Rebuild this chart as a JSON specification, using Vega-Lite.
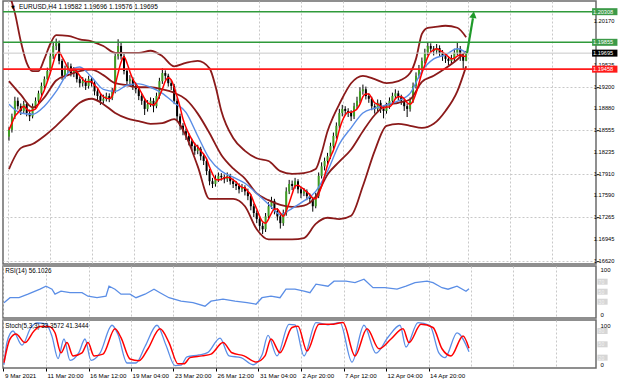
{
"$schema":"https://vega.github.io/schema/vega-lite/v6.json",
"padding":0,
"background":"white",
"spacing":2,
"bounds":"flush",
"config":{"font":"Liberation Sans","view":{"stroke":"#6b6b6b","strokeWidth":1.5},"axis":{"labelFont":"Liberation Sans","labelFontSize":6.3,"labelColor":"#000","labelOverlap":false}},
"datasets":{
"candles":[
{"i":0,"o":1.1846,"h":1.1860,"l":1.1840,"c":1.1856,"r":1.1856},
{"i":1,"o":1.1856,"h":1.1880,"l":1.1852,"c":1.1876,"r":1.1866},
{"i":2,"o":1.1876,"h":1.1905,"l":1.1872,"c":1.1899,"r":1.1876},
{"i":3,"o":1.1899,"h":1.1904,"l":1.1886,"c":1.1891,"r":1.1881},
{"i":4,"o":1.1891,"h":1.1895,"l":1.1878,"c":1.1884,"r":1.1887},
{"i":5,"o":1.1884,"h":1.1899,"l":1.1880,"c":1.1894,"r":1.1891},
{"i":6,"o":1.1894,"h":1.1897,"l":1.1876,"c":1.1881,"r":1.1887},
{"i":7,"o":1.1881,"h":1.1886,"l":1.1869,"c":1.1876,"r":1.1884},
{"i":8,"o":1.1876,"h":1.1895,"l":1.1873,"c":1.1891,"r":1.1885},
{"i":9,"o":1.1891,"h":1.1904,"l":1.1887,"c":1.1899,"r":1.1887},
{"i":10,"o":1.1899,"h":1.1914,"l":1.1895,"c":1.1910,"r":1.1894},
{"i":11,"o":1.1910,"h":1.1926,"l":1.1906,"c":1.1921,"r":1.1905},
{"i":12,"o":1.1921,"h":1.1935,"l":1.1916,"c":1.1931,"r":1.1915},
{"i":13,"o":1.1931,"h":1.1948,"l":1.1927,"c":1.1943,"r":1.1927},
{"i":14,"o":1.1943,"h":1.1970,"l":1.1939,"c":1.1965,"r":1.1940},
{"i":15,"o":1.1965,"h":1.1986,"l":1.1961,"c":1.1980,"r":1.1955},
{"i":16,"o":1.1980,"h":1.1991,"l":1.1974,"c":1.1984,"r":1.1968},
{"i":17,"o":1.1984,"h":1.1988,"l":1.1953,"c":1.1958,"r":1.1971},
{"i":18,"o":1.1958,"h":1.1961,"l":1.1930,"c":1.1936,"r":1.1964},
{"i":19,"o":1.1936,"h":1.1951,"l":1.1932,"c":1.1946,"r":1.1956},
{"i":20,"o":1.1946,"h":1.1956,"l":1.1940,"c":1.1950,"r":1.1947},
{"i":21,"o":1.1950,"h":1.1954,"l":1.1935,"c":1.1940,"r":1.1943},
{"i":22,"o":1.1940,"h":1.1949,"l":1.1934,"c":1.1943,"r":1.1945},
{"i":23,"o":1.1943,"h":1.1946,"l":1.1926,"c":1.1931,"r":1.1942},
{"i":24,"o":1.1931,"h":1.1935,"l":1.1919,"c":1.1925,"r":1.1936},
{"i":25,"o":1.1925,"h":1.1934,"l":1.1920,"c":1.1928,"r":1.1931},
{"i":26,"o":1.1928,"h":1.1932,"l":1.1915,"c":1.1921,"r":1.1927},
{"i":27,"o":1.1921,"h":1.1936,"l":1.1917,"c":1.1931,"r":1.1927},
{"i":28,"o":1.1931,"h":1.1934,"l":1.1920,"c":1.1925,"r":1.1927},
{"i":29,"o":1.1925,"h":1.1928,"l":1.1907,"c":1.1913,"r":1.1922},
{"i":30,"o":1.1913,"h":1.1917,"l":1.1900,"c":1.1906,"r":1.1918},
{"i":31,"o":1.1906,"h":1.1910,"l":1.1893,"c":1.1899,"r":1.1910},
{"i":32,"o":1.1899,"h":1.1908,"l":1.1895,"c":1.1902,"r":1.1905},
{"i":33,"o":1.1902,"h":1.1911,"l":1.1898,"c":1.1906,"r":1.1903},
{"i":34,"o":1.1906,"h":1.1910,"l":1.1897,"c":1.1903,"r":1.1902},
{"i":35,"o":1.1903,"h":1.1918,"l":1.1900,"c":1.1913,"r":1.1906},
{"i":36,"o":1.1913,"h":1.1971,"l":1.1910,"c":1.1965,"r":1.1922},
{"i":37,"o":1.1965,"h":1.1990,"l":1.1960,"c":1.1980,"r":1.1940},
{"i":38,"o":1.1980,"h":1.1986,"l":1.1960,"c":1.1965,"r":1.1956},
{"i":39,"o":1.1965,"h":1.1968,"l":1.1938,"c":1.1943,"r":1.1964},
{"i":40,"o":1.1943,"h":1.1947,"l":1.1922,"c":1.1928,"r":1.1955},
{"i":41,"o":1.1928,"h":1.1937,"l":1.1923,"c":1.1931,"r":1.1942},
{"i":42,"o":1.1931,"h":1.1934,"l":1.1915,"c":1.1921,"r":1.1931},
{"i":43,"o":1.1921,"h":1.1926,"l":1.1910,"c":1.1916,"r":1.1924},
{"i":44,"o":1.1916,"h":1.1920,"l":1.1900,"c":1.1906,"r":1.1918},
{"i":45,"o":1.1906,"h":1.1910,"l":1.1893,"c":1.1899,"r":1.1910},
{"i":46,"o":1.1899,"h":1.1902,"l":1.1878,"c":1.1887,"r":1.1902},
{"i":47,"o":1.1887,"h":1.1900,"l":1.1883,"c":1.1894,"r":1.1896},
{"i":48,"o":1.1894,"h":1.1904,"l":1.1890,"c":1.1899,"r":1.1894},
{"i":49,"o":1.1899,"h":1.1903,"l":1.1882,"c":1.1891,"r":1.1893},
{"i":50,"o":1.1891,"h":1.1911,"l":1.1888,"c":1.1906,"r":1.1897},
{"i":51,"o":1.1906,"h":1.1933,"l":1.1902,"c":1.1928,"r":1.1906},
{"i":52,"o":1.1928,"h":1.1947,"l":1.1924,"c":1.1940,"r":1.1916},
{"i":53,"o":1.1940,"h":1.1944,"l":1.1930,"c":1.1936,"r":1.1928},
{"i":54,"o":1.1936,"h":1.1939,"l":1.1920,"c":1.1925,"r":1.1933},
{"i":55,"o":1.1925,"h":1.1930,"l":1.1915,"c":1.1921,"r":1.1930},
{"i":56,"o":1.1921,"h":1.1924,"l":1.1894,"c":1.1899,"r":1.1919},
{"i":57,"o":1.1899,"h":1.1902,"l":1.1870,"c":1.1876,"r":1.1905},
{"i":58,"o":1.1876,"h":1.1880,"l":1.1856,"c":1.1862,"r":1.1890},
{"i":59,"o":1.1862,"h":1.1866,"l":1.1848,"c":1.1854,"r":1.1872},
{"i":60,"o":1.1854,"h":1.1858,"l":1.1841,"c":1.1847,"r":1.1860},
{"i":61,"o":1.1847,"h":1.1851,"l":1.1833,"c":1.1839,"r":1.1850},
{"i":62,"o":1.1839,"h":1.1843,"l":1.1826,"c":1.1832,"r":1.1842},
{"i":63,"o":1.1832,"h":1.1837,"l":1.1819,"c":1.1825,"r":1.1835},
{"i":64,"o":1.1825,"h":1.1834,"l":1.1820,"c":1.1828,"r":1.1831},
{"i":65,"o":1.1828,"h":1.1831,"l":1.1811,"c":1.1817,"r":1.1825},
{"i":66,"o":1.1817,"h":1.1821,"l":1.1804,"c":1.1810,"r":1.1820},
{"i":67,"o":1.1810,"h":1.1813,"l":1.1789,"c":1.1795,"r":1.1813},
{"i":68,"o":1.1795,"h":1.1798,"l":1.1774,"c":1.1780,"r":1.1801},
{"i":69,"o":1.1780,"h":1.1785,"l":1.1770,"c":1.1776,"r":1.1791},
{"i":70,"o":1.1776,"h":1.1789,"l":1.1772,"c":1.1783,"r":1.1783},
{"i":71,"o":1.1783,"h":1.1793,"l":1.1779,"c":1.1788,"r":1.1782},
{"i":72,"o":1.1788,"h":1.1792,"l":1.1781,"c":1.1786,"r":1.1783},
{"i":73,"o":1.1786,"h":1.1790,"l":1.1777,"c":1.1783,"r":1.1785},
{"i":74,"o":1.1783,"h":1.1793,"l":1.1779,"c":1.1788,"r":1.1786},
{"i":75,"o":1.1788,"h":1.1791,"l":1.1775,"c":1.1780,"r":1.1785},
{"i":76,"o":1.1780,"h":1.1784,"l":1.1770,"c":1.1776,"r":1.1782},
{"i":77,"o":1.1776,"h":1.1780,"l":1.1767,"c":1.1773,"r":1.1779},
{"i":78,"o":1.1773,"h":1.1777,"l":1.1762,"c":1.1768,"r":1.1774},
{"i":79,"o":1.1768,"h":1.1776,"l":1.1764,"c":1.1771,"r":1.1771},
{"i":80,"o":1.1771,"h":1.1774,"l":1.1759,"c":1.1765,"r":1.1770},
{"i":81,"o":1.1765,"h":1.1769,"l":1.1752,"c":1.1758,"r":1.1765},
{"i":82,"o":1.1758,"h":1.1761,"l":1.1737,"c":1.1743,"r":1.1760},
{"i":83,"o":1.1743,"h":1.1747,"l":1.1727,"c":1.1733,"r":1.1749},
{"i":84,"o":1.1733,"h":1.1737,"l":1.1718,"c":1.1724,"r":1.1739},
{"i":85,"o":1.1724,"h":1.1728,"l":1.1707,"c":1.1714,"r":1.1728},
{"i":86,"o":1.1714,"h":1.1719,"l":1.1702,"c":1.1709,"r":1.1720},
{"i":87,"o":1.1709,"h":1.1733,"l":1.1705,"c":1.1728,"r":1.1718},
{"i":88,"o":1.1728,"h":1.1749,"l":1.1724,"c":1.1743,"r":1.1724},
{"i":89,"o":1.1743,"h":1.1757,"l":1.1739,"c":1.1751,"r":1.1733},
{"i":90,"o":1.1751,"h":1.1754,"l":1.1731,"c":1.1736,"r":1.1739},
{"i":91,"o":1.1736,"h":1.1740,"l":1.1722,"c":1.1728,"r":1.1739},
{"i":92,"o":1.1728,"h":1.1732,"l":1.1710,"c":1.1718,"r":1.1733},
{"i":93,"o":1.1718,"h":1.1738,"l":1.1714,"c":1.1733,"r":1.1728},
{"i":94,"o":1.1733,"h":1.1771,"l":1.1729,"c":1.1765,"r":1.1736},
{"i":95,"o":1.1765,"h":1.1782,"l":1.1761,"c":1.1776,"r":1.1748},
{"i":96,"o":1.1776,"h":1.1781,"l":1.1767,"c":1.1773,"r":1.1761},
{"i":97,"o":1.1773,"h":1.1785,"l":1.1769,"c":1.1780,"r":1.1773},
{"i":98,"o":1.1780,"h":1.1783,"l":1.1762,"c":1.1768,"r":1.1774},
{"i":99,"o":1.1768,"h":1.1772,"l":1.1755,"c":1.1762,"r":1.1771},
{"i":100,"o":1.1762,"h":1.1770,"l":1.1758,"c":1.1765,"r":1.1768},
{"i":101,"o":1.1765,"h":1.1768,"l":1.1752,"c":1.1758,"r":1.1764},
{"i":102,"o":1.1758,"h":1.1762,"l":1.1747,"c":1.1754,"r":1.1760},
{"i":103,"o":1.1754,"h":1.1757,"l":1.1735,"c":1.1743,"r":1.1755},
{"i":104,"o":1.1743,"h":1.1763,"l":1.1740,"c":1.1758,"r":1.1754},
{"i":105,"o":1.1758,"h":1.1793,"l":1.1755,"c":1.1788,"r":1.1761},
{"i":106,"o":1.1788,"h":1.1808,"l":1.1784,"c":1.1802,"r":1.1773},
{"i":107,"o":1.1802,"h":1.1815,"l":1.1796,"c":1.1810,"r":1.1788},
{"i":108,"o":1.1810,"h":1.1822,"l":1.1805,"c":1.1817,"r":1.1804},
{"i":109,"o":1.1817,"h":1.1837,"l":1.1813,"c":1.1832,"r":1.1816},
{"i":110,"o":1.1832,"h":1.1852,"l":1.1828,"c":1.1847,"r":1.1826},
{"i":111,"o":1.1847,"h":1.1867,"l":1.1843,"c":1.1862,"r":1.1839},
{"i":112,"o":1.1862,"h":1.1887,"l":1.1858,"c":1.1881,"r":1.1856},
{"i":113,"o":1.1881,"h":1.1893,"l":1.1876,"c":1.1887,"r":1.1869},
{"i":114,"o":1.1887,"h":1.1891,"l":1.1878,"c":1.1884,"r":1.1878},
{"i":115,"o":1.1884,"h":1.1888,"l":1.1875,"c":1.1881,"r":1.1882},
{"i":116,"o":1.1881,"h":1.1885,"l":1.1869,"c":1.1876,"r":1.1882},
{"i":117,"o":1.1876,"h":1.1896,"l":1.1872,"c":1.1891,"r":1.1884},
{"i":118,"o":1.1891,"h":1.1905,"l":1.1887,"c":1.1899,"r":1.1887},
{"i":119,"o":1.1899,"h":1.1919,"l":1.1895,"c":1.1913,"r":1.1894},
{"i":120,"o":1.1913,"h":1.1923,"l":1.1908,"c":1.1916,"r":1.1905},
{"i":121,"o":1.1916,"h":1.1920,"l":1.1901,"c":1.1906,"r":1.1909},
{"i":122,"o":1.1906,"h":1.1910,"l":1.1896,"c":1.1902,"r":1.1909},
{"i":123,"o":1.1902,"h":1.1905,"l":1.1885,"c":1.1891,"r":1.1903},
{"i":124,"o":1.1891,"h":1.1895,"l":1.1880,"c":1.1887,"r":1.1896},
{"i":125,"o":1.1887,"h":1.1901,"l":1.1883,"c":1.1896,"r":1.1894},
{"i":126,"o":1.1896,"h":1.1900,"l":1.1881,"c":1.1887,"r":1.1891},
{"i":127,"o":1.1887,"h":1.1891,"l":1.1873,"c":1.1884,"r":1.1888},
{"i":128,"o":1.1884,"h":1.1896,"l":1.1880,"c":1.1891,"r":1.1890},
{"i":129,"o":1.1891,"h":1.1904,"l":1.1887,"c":1.1899,"r":1.1890},
{"i":130,"o":1.1899,"h":1.1911,"l":1.1895,"c":1.1906,"r":1.1894},
{"i":131,"o":1.1906,"h":1.1916,"l":1.1902,"c":1.1910,"r":1.1902},
{"i":132,"o":1.1910,"h":1.1914,"l":1.1900,"c":1.1905,"r":1.1905},
{"i":133,"o":1.1905,"h":1.1908,"l":1.1893,"c":1.1899,"r":1.1905},
{"i":134,"o":1.1899,"h":1.1902,"l":1.1884,"c":1.1891,"r":1.1902},
{"i":135,"o":1.1891,"h":1.1895,"l":1.1875,"c":1.1887,"r":1.1896},
{"i":136,"o":1.1887,"h":1.1904,"l":1.1883,"c":1.1899,"r":1.1894},
{"i":137,"o":1.1899,"h":1.1926,"l":1.1896,"c":1.1921,"r":1.1899},
{"i":138,"o":1.1921,"h":1.1941,"l":1.1917,"c":1.1936,"r":1.1910},
{"i":139,"o":1.1936,"h":1.1952,"l":1.1932,"c":1.1946,"r":1.1925},
{"i":140,"o":1.1946,"h":1.1963,"l":1.1942,"c":1.1958,"r":1.1940},
{"i":141,"o":1.1958,"h":1.1976,"l":1.1954,"c":1.1970,"r":1.1952},
{"i":142,"o":1.1970,"h":1.1986,"l":1.1966,"c":1.1980,"r":1.1964},
{"i":143,"o":1.1980,"h":1.1984,"l":1.1970,"c":1.1976,"r":1.1971},
{"i":144,"o":1.1976,"h":1.1980,"l":1.1966,"c":1.1973,"r":1.1974},
{"i":145,"o":1.1973,"h":1.1983,"l":1.1968,"c":1.1977,"r":1.1976},
{"i":146,"o":1.1977,"h":1.1981,"l":1.1964,"c":1.1970,"r":1.1974},
{"i":147,"o":1.1970,"h":1.1974,"l":1.1958,"c":1.1965,"r":1.1971},
{"i":148,"o":1.1965,"h":1.1969,"l":1.1955,"c":1.1961,"r":1.1968},
{"i":149,"o":1.1961,"h":1.1965,"l":1.1952,"c":1.1958,"r":1.1964},
{"i":150,"o":1.1958,"h":1.1967,"l":1.1954,"c":1.1961,"r":1.1961},
{"i":151,"o":1.1961,"h":1.1976,"l":1.1957,"c":1.1970,"r":1.1962},
{"i":152,"o":1.1970,"h":1.1985,"l":1.1966,"c":1.1976,"r":1.1965},
{"i":153,"o":1.1976,"h":1.1980,"l":1.1958,"c":1.1965,"r":1.1967},
{"i":154,"o":1.1965,"h":1.1969,"l":1.1946,"c":1.19582,"r":1.1965},
{"i":155,"o":1.19582,"h":1.19696,"l":1.19576,"c":1.19695,"r":1.1965}
],
"bb":[
{"i":0,"b":1.1894,"u":1.2058,"m":1.1928,"l":1.1798},
{"i":2,"u":1.2029},
{"i":4,"b":1.1881,"u":1.1987,"m":1.1908,"l":1.1829},
{"i":6,"u":1.1955},
{"i":8,"b":1.1879,"u":1.1943,"m":1.1889,"l":1.1835},
{"i":10,"u":1.1943},
{"i":12,"b":1.1891,"u":1.1961,"m":1.1904,"l":1.1847},
{"i":14,"u":1.1983},
{"i":16,"b":1.1913,"u":1.1996,"m":1.1929,"l":1.1862},
{"i":20,"b":1.1940,"u":1.1995,"m":1.1937,"l":1.1879},
{"i":24,"b":1.1949,"u":1.1990,"m":1.1943,"l":1.1896},
{"i":28,"b":1.1934,"u":1.1987,"m":1.1945,"l":1.1902},
{"i":32,"b":1.1916,"u":1.1980,"m":1.1937,"l":1.1894},
{"i":36,"b":1.1913,"u":1.1970,"m":1.1925,"l":1.1881},
{"i":40,"b":1.1922,"u":1.1970,"m":1.1922,"l":1.1873},
{"i":44,"b":1.1924,"u":1.1970,"m":1.1919,"l":1.1869},
{"i":48,"b":1.1919,"u":1.1973,"m":1.1919,"l":1.1865},
{"i":52,"b":1.1910,"u":1.1965,"m":1.1916,"l":1.1866},
{"i":56,"b":1.1896,"u":1.1950,"m":1.1911,"l":1.1872},
{"i":60,"b":1.1882,"u":1.1955,"m":1.1901,"l":1.1847},
{"i":64,"b":1.1847,"u":1.1958,"m":1.1880,"l":1.1802},
{"i":68,"b":1.1813,"u":1.1947,"m":1.1851,"l":1.1754},
{"i":70,"u":1.1921},
{"i":72,"b":1.1795,"u":1.1884,"m":1.1819,"l":1.1754},
{"i":76,"b":1.1786,"u":1.1844,"m":1.1799,"l":1.1754},
{"i":80,"b":1.1777,"u":1.1825,"m":1.1784,"l":1.1743},
{"i":84,"b":1.1762,"u":1.1814,"m":1.1762,"l":1.1709},
{"i":88,"b":1.1746,"u":1.1810,"m":1.1752,"l":1.1694},
{"i":92,"b":1.1731,"u":1.1795,"m":1.1745,"l":1.1694},
{"i":96,"b":1.1740,"u":1.1791,"m":1.1742,"l":1.1694},
{"i":100,"b":1.1751,"u":1.1792,"m":1.1744,"l":1.1696},
{"i":104,"b":1.1765,"u":1.1798,"m":1.1757,"l":1.1717},
{"i":106,"u":1.1822},
{"i":108,"b":1.1795,"u":1.1854,"m":1.1790,"l":1.1726},
{"i":110,"u":1.1876},
{"i":112,"b":1.1835,"u":1.1894,"m":1.1809,"l":1.1724},
{"i":116,"b":1.1859,"u":1.1925,"m":1.1827,"l":1.1729},
{"i":120,"b":1.1881,"u":1.1936,"m":1.1854,"l":1.1773},
{"i":124,"b":1.1888,"u":1.1931,"m":1.1878,"l":1.1825},
{"i":128,"b":1.1893,"u":1.1925,"m":1.1893,"l":1.1862},
{"i":132,"b":1.1899,"u":1.1928,"m":1.1896,"l":1.1865},
{"i":136,"b":1.1910,"u":1.1940,"m":1.1901,"l":1.1862},
{"i":138,"u":1.1961},
{"i":140,"b":1.1943,"u":1.1998,"m":1.1927,"l":1.1859},
{"i":142,"u":1.2007},
{"i":144,"b":1.1961,"u":1.2008,"m":1.1936,"l":1.1865},
{"i":148,"b":1.1967,"u":1.2010,"m":1.1947,"l":1.1884},
{"i":152,"b":1.1976,"u":1.2007,"m":1.1960,"l":1.1913},
{"i":155,"b":1.1970,"u":1.1993,"m":1.1972,"l":1.1950}
],
"levels":[
{"p":1.20308,"t":"1.20308","k":"g"},
{"p":1.19855,"t":"1.19855","k":"g"},
{"p":1.19695,"t":"1.19695","k":"c"},
{"p":1.19458,"t":"1.19458","k":"r"}
],
"pticks":[
{"p":1.2017,"t":"1.20170"},{"p":1.19525,"t":"1.19525"},{"p":1.192,"t":"1.19200"},{"p":1.1888,"t":"1.18880"},{"p":1.18555,"t":"1.18555"},{"p":1.18235,"t":"1.18235"},{"p":1.1791,"t":"1.17910"},{"p":1.1759,"t":"1.17590"},{"p":1.17265,"t":"1.17265"},{"p":1.16945,"t":"1.16945"},{"p":1.1662,"t":"1.16620"}
],
"rlev":[{"v":70,"t":"70"},{"v":50,"t":"50"},{"v":30,"t":"30"}],
"slev":[{"v":80,"t":"80"},{"v":50,"t":"50"},{"v":20,"t":"20"}],
"rsi":[
{"i":0,"v":28},{"i":2,"v":38},{"i":5,"v":38},{"i":8,"v":45},{"i":12,"v":55},{"i":14,"v":61},{"i":16,"v":55},{"i":17,"v":45},{"i":19,"v":51},{"i":22,"v":48},{"i":26,"v":48},{"i":28,"v":41},{"i":31,"v":38},{"i":34,"v":41},{"i":35,"v":61},{"i":37,"v":55},{"i":39,"v":45},{"i":42,"v":45},{"i":44,"v":38},{"i":47,"v":45},{"i":50,"v":55},{"i":52,"v":48},{"i":55,"v":38},{"i":59,"v":31},{"i":63,"v":28},{"i":67,"v":21},{"i":69,"v":31},{"i":73,"v":35},{"i":77,"v":31},{"i":81,"v":28},{"i":84,"v":25},{"i":86,"v":38},{"i":89,"v":41},{"i":92,"v":38},{"i":94,"v":55},{"i":97,"v":55},{"i":100,"v":51},{"i":102,"v":48},{"i":104,"v":65},{"i":108,"v":61},{"i":110,"v":71},{"i":114,"v":71},{"i":117,"v":68},{"i":120,"v":75},{"i":123,"v":58},{"i":127,"v":58},{"i":131,"v":55},{"i":134,"v":61},{"i":137,"v":68},{"i":141,"v":71},{"i":143,"v":68},{"i":146,"v":58},{"i":148,"v":55},{"i":151,"v":61},{"i":154,"v":51},{"i":155,"v":56.1}
],
"sd":[
{"i":0,"v":9},{"i":2,"v":62},{"i":4,"v":73},{"i":7,"v":54},{"i":10,"v":80},{"i":12,"v":90},{"i":15,"v":90},{"i":17,"v":76},{"i":19,"v":31},{"i":21,"v":54},{"i":23,"v":24},{"i":26,"v":31},{"i":28,"v":54},{"i":30,"v":24},{"i":33,"v":28},{"i":37,"v":85},{"i":39,"v":65},{"i":42,"v":17},{"i":45,"v":13},{"i":48,"v":40},{"i":52,"v":85},{"i":55,"v":54},{"i":58,"v":6},{"i":60,"v":6},{"i":62,"v":20},{"i":66,"v":24},{"i":69,"v":28},{"i":73,"v":54},{"i":76,"v":31},{"i":80,"v":24},{"i":84,"v":10},{"i":87,"v":24},{"i":89,"v":62},{"i":92,"v":31},{"i":96,"v":88},{"i":98,"v":91},{"i":101,"v":35},{"i":105,"v":95},{"i":109,"v":95},{"i":113,"v":99},{"i":117,"v":24},{"i":121,"v":85},{"i":125,"v":40},{"i":129,"v":62},{"i":133,"v":85},{"i":135,"v":54},{"i":139,"v":95},{"i":143,"v":88},{"i":146,"v":40},{"i":149,"v":24},{"i":153,"v":69},{"i":155,"v":41.3}
],
"sk":[
{"i":0,"v":4},{"i":1,"v":55},{"i":3,"v":80},{"i":6,"v":48},{"i":9,"v":88},{"i":11,"v":98},{"i":14,"v":96},{"i":16,"v":68},{"i":18,"v":18},{"i":20,"v":62},{"i":22,"v":14},{"i":25,"v":32},{"i":27,"v":62},{"i":29,"v":14},{"i":32,"v":30},{"i":36,"v":93},{"i":38,"v":72},{"i":41,"v":8},{"i":44,"v":8},{"i":47,"v":45},{"i":51,"v":93},{"i":54,"v":48},{"i":57,"v":2},{"i":59,"v":3},{"i":61,"v":22},{"i":65,"v":26},{"i":68,"v":32},{"i":72,"v":64},{"i":75,"v":24},{"i":79,"v":20},{"i":83,"v":4},{"i":86,"v":26},{"i":88,"v":70},{"i":91,"v":24},{"i":95,"v":95},{"i":97,"v":94},{"i":100,"v":24},{"i":104,"v":99},{"i":108,"v":94},{"i":112,"v":99},{"i":116,"v":10},{"i":120,"v":93},{"i":124,"v":30},{"i":128,"v":66},{"i":132,"v":93},{"i":134,"v":44},{"i":138,"v":99},{"i":142,"v":92},{"i":145,"v":30},{"i":147,"v":20},{"i":151,"v":76},{"i":155,"v":33.4}
]
},
"vconcat":[
{
"width":593,"height":263,
"layer":[
{"data":{"name":"candles"},"mark":{"type":"rule","color":"#000","strokeWidth":1},
 "encoding":{
  "x":{"field":"i","type":"quantitative","title":null,"scale":{"domain":[-0.3333,197.3333],"nice":false,"zero":false},
   "axis":{"values":[-0.1667,6.9167,14,21.0833,28.1667,35.25,42.3333,49.4167,56.5,63.5833,70.6667,77.75,84.8333,91.9167,99,106.0833,113.1667,120.25,127.3333,134.4167,141.5,148.5833,155.6667,162.75,169.8333,176.9167,184,191.0833],"grid":true,"gridColor":"#c8c8c8","gridDash":[2,2],"labels":false,"ticks":false,"domain":false,"title":null}},
  "y":{"field":"l","type":"quantitative","title":null,"scale":{"domain":[1.16576,1.20466],"nice":false,"zero":false},
   "axis":{"orient":"right","values":[1.1662,1.16945,1.17265,1.1759,1.1791,1.18235,1.18555,1.1888,1.192,1.19525,1.19855,1.2017],"grid":true,"gridColor":"#c8c8c8","gridDash":[2,2],"tickSize":3,"tickColor":"#333","domain":false,"labels":false,"title":null}},
  "y2":{"field":"h"}}},
{"data":{"name":"candles"},"mark":{"type":"bar","orient":"vertical","width":2},
 "encoding":{
  "x":{"field":"i","type":"quantitative","title":null},
  "y":{"field":"o","type":"quantitative","title":null},
  "y2":{"field":"c"},
  "color":{"condition":{"test":"datum.c >= datum.o","value":"#3f9e22"},"value":"#000000"}}},
{"data":{"name":"bb"},"transform":[{"filter":"isValid(datum.u)"}],"mark":{"type":"line","color":"#8b1a1a","strokeWidth":1.8,"interpolate":"monotone","clip":true},
 "encoding":{"x":{"field":"i","type":"quantitative","title":null},"y":{"field":"u","type":"quantitative","title":null}}},
{"data":{"name":"bb"},"transform":[{"filter":"isValid(datum.m)"}],"mark":{"type":"line","color":"#8b1a1a","strokeWidth":1.8,"interpolate":"monotone","clip":true},
 "encoding":{"x":{"field":"i","type":"quantitative","title":null},"y":{"field":"m","type":"quantitative","title":null}}},
{"data":{"name":"bb"},"transform":[{"filter":"isValid(datum.l)"}],"mark":{"type":"line","color":"#8b1a1a","strokeWidth":1.8,"interpolate":"monotone","clip":true},
 "encoding":{"x":{"field":"i","type":"quantitative","title":null},"y":{"field":"l","type":"quantitative","title":null}}},
{"data":{"name":"bb"},"transform":[{"filter":"isValid(datum.b)"}],"mark":{"type":"line","color":"#5a8de6","strokeWidth":1.4,"interpolate":"monotone","clip":true},
 "encoding":{"x":{"field":"i","type":"quantitative","title":null},"y":{"field":"b","type":"quantitative","title":null}}},
{"data":{"name":"candles"},"mark":{"type":"line","color":"#ff0000","strokeWidth":1.5,"interpolate":"monotone"},
 "encoding":{"x":{"field":"i","type":"quantitative","title":null},"y":{"field":"r","type":"quantitative","title":null}}},
{"data":{"name":"pticks"},"mark":{"type":"text","align":"left","baseline":"middle","fontSize":5.7,"color":"#000"},
 "encoding":{"x":{"datum":198.3},"y":{"field":"p","type":"quantitative","title":null},"text":{"field":"t"}}},
{"data":{"name":"levels"},"mark":{"type":"rule"},
 "encoding":{"y":{"field":"p","type":"quantitative","title":null},
  "color":{"condition":[{"test":"datum.k=='g'","value":"#2f9a3a"},{"test":"datum.k=='r'","value":"#ff1a1a"}],"value":"#c8c8c8"},
  "strokeWidth":{"condition":{"test":"datum.k=='c'","value":1},"value":1.6}}},
{"data":{"name":"levels"},"mark":{"type":"rule","strokeWidth":7,"strokeCap":"butt"},
 "encoding":{"x":{"datum":197.7},"x2":{"datum":206.3},"y":{"field":"p","type":"quantitative","title":null},
  "color":{"condition":[{"test":"datum.k=='g'","value":"#3c9a48"},{"test":"datum.k=='r'","value":"#ff1a1a"}],"value":"#000000"}}},
{"data":{"name":"levels"},"mark":{"type":"text","align":"left","baseline":"middle","fontSize":5.6,"color":"#ffffff"},
 "encoding":{"x":{"datum":198.0},"y":{"field":"p","type":"quantitative","title":null},"text":{"field":"t"}}},
{"data":{"values":[{"i":155.3,"p":1.19695},{"i":157.3,"p":1.2021}]},"mark":{"type":"line","color":"#1f9a2a","strokeWidth":2.2},
 "encoding":{"x":{"field":"i","type":"quantitative","title":null},"y":{"field":"p","type":"quantitative","title":null}}},
{"data":{"values":[{"i":157.45,"p":1.20262}]},"mark":{"type":"point","shape":"triangle-up","filled":true,"color":"#1f9a2a","size":55,"angle":9,"opacity":1},
 "encoding":{"x":{"field":"i","type":"quantitative","title":null},"y":{"field":"p","type":"quantitative","title":null}}},
{"data":{"values":[{"t":"EURUSD,H4  1.19582 1.19696 1.19576 1.19695"}]},"mark":{"type":"text","align":"left","baseline":"middle","fontSize":6.5,"color":"#000"},
 "encoding":{"x":{"datum":3.4},"y":{"datum":1.20375},"text":{"field":"t"}}},
{"data":{"values":[{"t":"▼"}]},"mark":{"type":"text","align":"center","baseline":"middle","fontSize":5,"color":"#000","font":"DejaVu Sans"},
 "encoding":{"x":{"datum":1.3},"y":{"datum":1.20375},"text":{"field":"t"}}}
]
},
{
"width":593,"height":52,
"layer":[
{"data":{"name":"rsi"},"mark":{"type":"line","color":"#5b8ee6","strokeWidth":1.3},
 "encoding":{
  "x":{"field":"i","type":"quantitative","title":null,"scale":{"domain":[-0.3333,197.3333],"nice":false,"zero":false},
   "axis":{"values":[-0.1667,6.9167,14,21.0833,28.1667,35.25,42.3333,49.4167,56.5,63.5833,70.6667,77.75,84.8333,91.9167,99,106.0833,113.1667,120.25,127.3333,134.4167,141.5,148.5833,155.6667,162.75,169.8333,176.9167,184,191.0833],"grid":true,"gridColor":"#c8c8c8","gridDash":[2,2],"labels":false,"ticks":false,"domain":false,"title":null}},
  "y":{"field":"v","type":"quantitative","title":null,"scale":{"domain":[-2.6,101.4],"nice":false,"zero":false},
   "axis":{"orient":"right","values":[0,30,50,70,100],"grid":true,"gridDash":[],"gridColor":{"condition":{"test":"datum.value > 0 && datum.value < 100","value":"#bdbdbd"},"value":"transparent"},"ticks":false,"domain":false,"labelPadding":4,"labelFontSize":6,"labelOverlap":false,"title":null,
    "labelColor":{"condition":{"test":"datum.value == 0 || datum.value == 100","value":"#000000"},"value":"transparent"},
    "labelBaseline":{"condition":{"test":"datum.value == 100","value":"top"},"value":"middle"},
    "labelOffset":{"condition":{"test":"datum.value == 0","value":-2},"value":0}}}}},
{"data":{"name":"rlev"},"mark":{"type":"rule","strokeWidth":6,"strokeCap":"butt","color":"#d6d6d6"},
 "encoding":{"x":{"datum":197.8},"x2":{"datum":201.2},"y":{"field":"v","type":"quantitative","title":null}}},
{"data":{"name":"rlev"},"mark":{"type":"text","align":"left","baseline":"middle","fontSize":5,"color":"#f2f2f2"},
 "encoding":{"x":{"datum":198.2},"y":{"field":"v","type":"quantitative","title":null},"text":{"field":"t"}}},
{"data":{"values":[{"t":"RSI(14) 56.1026"}]},"mark":{"type":"text","align":"left","baseline":"middle","fontSize":6.3,"color":"#000"},
 "encoding":{"x":{"datum":0.4},"y":{"datum":91.4},"text":{"field":"t"}}}
]
},
{
"width":593,"height":48,
"layer":[
{"data":{"name":"sk"},"mark":{"type":"line","color":"#5b8ee6","strokeWidth":1.3,"interpolate":"monotone"},
 "encoding":{
  "x":{"field":"i","type":"quantitative","title":null,"scale":{"domain":[-0.3333,197.3333],"nice":false,"zero":false},
   "axis":{"values":[-0.1667,6.9167,14,21.0833,28.1667,35.25,42.3333,49.4167,56.5,63.5833,70.6667,77.75,84.8333,91.9167,99,106.0833,113.1667,120.25,127.3333,134.4167,141.5,148.5833,155.6667,162.75,169.8333,176.9167,184,191.0833],"grid":true,"gridColor":"#c8c8c8","gridDash":[2,2],"domain":false,"title":null,
    "ticks":true,"tickSize":3,"tickColor":"#000",
    "tickOpacity":{"condition":{"test":"round((datum.value+0.1667)/7.0833)%2==0 && datum.value<145","value":1},"value":0},
    "labelExpr":"(round((datum.value+0.1667)/7.0833)%2==0 && datum.value<145) ? ['9 Mar 2021','11 Mar 20:00','16 Mar 12:00','19 Mar 04:00','23 Mar 20:00','26 Mar 12:00','31 Mar 04:00','2 Apr 20:00','7 Apr 12:00','12 Apr 04:00','14 Apr 20:00'][round((datum.value+0.1667)/14.1667)] : ''",
    "labelAlign":"left","labelBaseline":"top","labelPadding":1,"labelOffset":1,"labelFlush":false,"labelOverlap":false,"labelBound":false,"labelFontSize":6.2}},
  "y":{"field":"v","type":"quantitative","title":null,"scale":{"domain":[-3.3,104.8],"nice":false,"zero":false},
   "axis":{"orient":"right","values":[0,20,50,80,100],"grid":true,"gridDash":[],"gridColor":{"condition":{"test":"datum.value > 0 && datum.value < 100","value":"#bdbdbd"},"value":"transparent"},"ticks":false,"domain":false,"labelPadding":4,"labelFontSize":6,"labelOverlap":false,"title":null,
    "labelColor":{"condition":{"test":"datum.value == 0 || datum.value == 100","value":"#000000"},"value":"transparent"},
    "labelBaseline":{"condition":{"test":"datum.value == 100","value":"top"},"value":"middle"},
    "labelOffset":{"condition":{"test":"datum.value == 0","value":-2},"value":0}}}}},
{"data":{"name":"sd"},"mark":{"type":"line","color":"#ff0000","strokeWidth":1.5,"interpolate":"monotone"},
 "encoding":{"x":{"field":"i","type":"quantitative","title":null},"y":{"field":"v","type":"quantitative","title":null}}},
{"data":{"name":"slev"},"mark":{"type":"rule","strokeWidth":6,"strokeCap":"butt","color":"#d6d6d6"},
 "encoding":{"x":{"datum":197.8},"x2":{"datum":201.2},"y":{"field":"v","type":"quantitative","title":null}}},
{"data":{"name":"slev"},"mark":{"type":"text","align":"left","baseline":"middle","fontSize":5,"color":"#f2f2f2"},
 "encoding":{"x":{"datum":198.2},"y":{"field":"v","type":"quantitative","title":null},"text":{"field":"t"}}},
{"data":{"values":[{"t":"Stoch(5,3,3) 33.3572 41.3444"}]},"mark":{"type":"text","align":"left","baseline":"middle","fontSize":6.3,"color":"#000"},
 "encoding":{"x":{"datum":0.4},"y":{"datum":91.3},"text":{"field":"t"}}}
]
}
]
}
